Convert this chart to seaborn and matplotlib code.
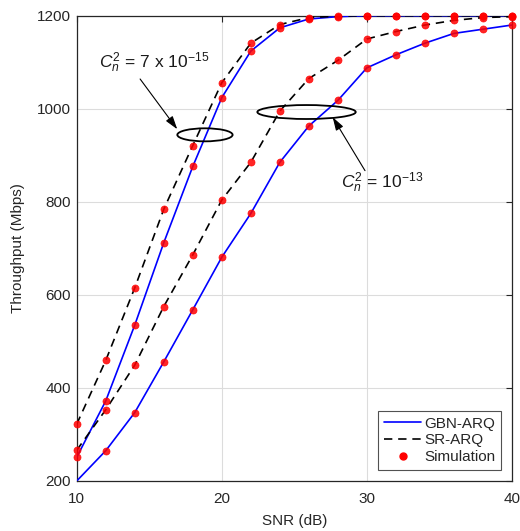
import numpy as np
import pandas as pd
import matplotlib
matplotlib.use("Agg")
import matplotlib.pyplot as plt
from matplotlib.patches import Ellipse
from matplotlib.lines import Line2D
import seaborn as sns

snr = [10, 12, 14, 16, 18, 20, 22, 24, 26, 28, 30, 32, 34, 36, 38, 40]

# Cn^2 = 7e-15
gbn_7e15 = [251, 372, 535, 712, 876, 1024, 1124, 1174, 1193, 1198, 1200, 1200, 1200, 1200, 1200, 1200]
sr_7e15 = [322, 459, 615, 784, 921, 1056, 1141, 1181, 1196, 1199, 1200, 1200, 1200, 1200, 1200, 1200]
# Cn^2 = 1e-13
gbn_1e13 = [200, 265, 347, 456, 568, 681, 775, 885, 963, 1018, 1088, 1116, 1141, 1162, 1171, 1180]
sr_1e13 = [266, 353, 449, 575, 686, 804, 885, 995, 1065, 1104, 1150, 1166, 1180, 1190, 1196, 1198]
# simulation points (none visible for GBN 1e-13 at 10 dB)
sim_gbn_1e13 = [np.nan] + gbn_1e13[1:]

legend_labels = ["GBN-ARQ", "SR-ARQ", "Simulation"]

sns.set_style("white")
plt.rcParams["font.family"] = ["Liberation Sans", "DejaVu Sans"]
plt.rcParams["mathtext.fontset"] = "custom"
plt.rcParams["mathtext.rm"] = "Liberation Sans"
plt.rcParams["mathtext.it"] = "Liberation Sans:italic"

fig = plt.figure(figsize=(5.2, 5.31), dpi=100)
ax = fig.add_axes([0.1475, 0.0942, 0.8371, 0.8762])

lines_df = pd.concat([
    pd.DataFrame({"snr": snr, "thr": gbn_7e15, "scheme": "GBN", "cn": "7e-15"}),
    pd.DataFrame({"snr": snr, "thr": gbn_1e13, "scheme": "GBN", "cn": "1e-13"}),
    pd.DataFrame({"snr": snr, "thr": sr_7e15, "scheme": "SR", "cn": "7e-15"}),
    pd.DataFrame({"snr": snr, "thr": sr_1e13, "scheme": "SR", "cn": "1e-13"}),
])

for (scheme, cn), d in lines_df.groupby(["scheme", "cn"]):
    if scheme == "GBN":
        sns.lineplot(data=d, x="snr", y="thr", ax=ax, color=(0, 0, 1), lw=1.2,
                     legend=False, zorder=3)
    else:
        sns.lineplot(data=d, x="snr", y="thr", ax=ax, color="black", lw=1.2,
                     dashes=False, linestyle=(0, (5, 3.5)), legend=False, zorder=3)

sim_df = pd.concat([
    pd.DataFrame({"snr": snr, "thr": gbn_7e15}),
    pd.DataFrame({"snr": snr, "thr": sr_7e15}),
    pd.DataFrame({"snr": snr, "thr": sim_gbn_1e13}),
    pd.DataFrame({"snr": snr, "thr": sr_1e13}),
]).dropna()
sns.scatterplot(data=sim_df, x="snr", y="thr", ax=ax, color="red", s=26,
                edgecolor="red", linewidth=0.5, alpha=0.85, zorder=4, clip_on=False,
                legend=False)

ax.set_xlim(10, 40)
ax.set_ylim(200, 1200)
ax.set_xticks([10, 20, 30, 40])
ax.set_yticks([200, 400, 600, 800, 1000, 1200])
ax.grid(True, color="#dcdcdc", lw=0.8)
ax.set_axisbelow(True)
ax.tick_params(direction="in", length=4, width=0.8, colors="#262626",
               labelsize=11, top=True, right=True, labelcolor="#262626")
ax.tick_params(axis="x", pad=8)
ax.tick_params(axis="y", pad=4)
for s in ax.spines.values():
    s.set_color("#262626")
    s.set_linewidth(0.9)
ax.set_xlabel("SNR (dB)", fontsize=11, color="#262626", labelpad=6)
ax.set_ylabel("Throughput (Mbps)", fontsize=11, color="#262626", labelpad=9)

# annotations
ax.add_patch(Ellipse((18.84, 944), 3.81, 28, fill=False, ec="black", lw=1.3, zorder=5))
ax.add_patch(Ellipse((25.84, 993), 6.78, 30, fill=False, ec="black", lw=1.3, zorder=5))
ax.annotate("", xy=(16.93, 956), xytext=(14.37, 1064),
            arrowprops=dict(arrowstyle="-|>,head_length=0.8,head_width=0.25",
                            color="black", lw=0.8, shrinkA=0, shrinkB=0))
ax.annotate("", xy=(27.64, 982), xytext=(29.87, 867),
            arrowprops=dict(arrowstyle="-|>,head_length=0.8,head_width=0.25",
                            color="black", lw=0.8, shrinkA=0, shrinkB=0))
ax.text(11.55, 1098, r"$\mathit{C}_{\mathit{n}}^{2}$ = 7 x 10$^{-15}$", fontsize=12.5,
        va="center", ha="left", color="#1a1a1a")
ax.text(28.2, 840, r"$\mathit{C}_{\mathit{n}}^{2}$ = 10$^{-13}$", fontsize=12.5,
        va="center", ha="left", color="#1a1a1a")

handles = [
    Line2D([], [], color=(0, 0, 1), lw=1.2),
    Line2D([], [], color="black", lw=1.2, linestyle=(0, (5, 3.5))),
    Line2D([], [], color="red", marker="o", ls="none", markersize=5),
]
leg = ax.legend(handles, legend_labels, loc="lower right", fontsize=11,
                frameon=True, fancybox=False, edgecolor="#262626",
                borderaxespad=0.7, handlelength=2.4, handletextpad=0.2,
                labelspacing=0.18, borderpad=0.4)
leg.get_frame().set_linewidth(0.8)

fig.savefig("out.png", dpi=100)
